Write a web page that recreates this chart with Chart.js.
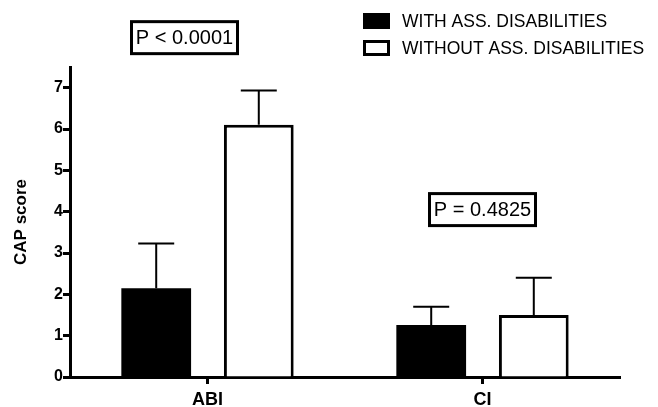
<!DOCTYPE html>
<html>
<head>
<meta charset="utf-8">
<script src="https://cdn.jsdelivr.net/npm/chart.js@4"></script>
<style>
  html, body { margin: 0; padding: 0; background: #fff; }
  #wrap { width: 658px; height: 407px; position: relative; }
</style>
</head>
<body>
<div id="wrap"><canvas id="capChart"></canvas></div>
<script>
const categories = ["ABI", "CI"];
const seriesNames = ["WITH ASS. DISABILITIES", "WITHOUT ASS. DISABILITIES"];
const withDisabilities = [2.15, 1.26];
const withDisabilitiesErr = [1.08, 0.44];
const withoutDisabilities = [6.1, 1.5];
const withoutDisabilitiesErr = [0.83, 0.9];
const pValues = ["P < 0.0001", "P = 0.4825"];
const yTicks = [0, 1, 2, 3, 4, 5, 6, 7];

const FONT = "'Liberation Sans', Arial, sans-serif";

// where the p-value boxes sit: x offset from category centre, y in data units
const pBoxPos = [
  { dx: -23, y: 8.21 },
  { dx: 0, y: 4.05 },
];

const errorBars = {
  id: "errorBars",
  afterDatasetsDraw(chart) {
    const { ctx, scales } = chart;
    const errs = [withDisabilitiesErr, withoutDisabilitiesErr];
    ctx.save();
    ctx.strokeStyle = "#000";
    ctx.lineWidth = 2;
    chart.data.datasets.forEach((ds, di) => {
      const meta = chart.getDatasetMeta(di);
      meta.data.forEach((bar, i) => {
        const top = scales.y.getPixelForValue(ds.data[i] + errs[di][i]);
        ctx.beginPath();
        ctx.moveTo(bar.x, bar.y);
        ctx.lineTo(bar.x, top);
        ctx.moveTo(bar.x - 18, top);
        ctx.lineTo(bar.x + 18, top);
        ctx.stroke();
      });
    });
    ctx.restore();
  },
};

const pBoxes = {
  id: "pBoxes",
  afterDraw(chart) {
    const { ctx, scales } = chart;
    ctx.save();
    ctx.font = "20px " + FONT;
    ctx.textBaseline = "middle";
    ctx.textAlign = "center";
    pValues.forEach((txt, i) => {
      const cx = scales.x.getPixelForValue(i) + pBoxPos[i].dx;
      const cy = scales.y.getPixelForValue(pBoxPos[i].y);
      const w = 106, h = 32;
      ctx.fillStyle = "#fff";
      ctx.fillRect(cx - w / 2, cy - h / 2, w, h);
      ctx.strokeStyle = "#000";
      ctx.lineWidth = 3;
      ctx.strokeRect(cx - w / 2, cy - h / 2, w, h);
      ctx.fillStyle = "#000";
      ctx.fillText(txt, cx, cy + 1);
    });
    ctx.restore();
  },
};

const legendBox = {
  id: "legendBox",
  afterDraw(chart) {
    const { ctx } = chart;
    ctx.save();
    ctx.font = "17.5px " + FONT;
    ctx.textBaseline = "middle";
    ctx.fillStyle = "#000";
    const rows = [21, 48];
    seriesNames.forEach((name, i) => {
      const y = rows[i];
      if (i === 0) {
        ctx.fillRect(363, y - 8, 27, 16);
      } else {
        ctx.strokeStyle = "#000";
        ctx.lineWidth = 3;
        ctx.strokeRect(364.5, y - 6.5, 24, 13);
      }
      ctx.fillText(name, 402, y + 1);
    });
    ctx.restore();
  },
};

new Chart(document.getElementById("capChart"), {
  type: "bar",
  data: {
    labels: categories,
    datasets: [
      {
        label: seriesNames[0],
        data: withDisabilities,
        backgroundColor: "#000",
        borderColor: "#000",
        borderWidth: 0,
      },
      {
        label: seriesNames[1],
        data: withoutDisabilities,
        backgroundColor: "#fff",
        borderColor: "#000",
        borderWidth: 3,
        borderSkipped: "bottom",
      },
    ],
  },
  options: {
    responsive: true,
    maintainAspectRatio: false,
    animation: false,
    datasets: {
      bar: { categoryPercentage: 0.746, barPercentage: 0.68 },
    },
    layout: { padding: { top: 67, right: 38, left: 0, bottom: 0 } },
    plugins: { legend: { display: false }, tooltip: { enabled: false } },
    scales: {
      x: {
        afterFit: (scale) => { scale.height = 30; },
        grid: {
          offset: false,
          drawOnChartArea: false,
          tickLength: 7,
          tickWidth: 3,
          tickColor: "#000",
        },
        border: { color: "#000", width: 3 },
        ticks: {
          color: "#000",
          padding: 5,
          font: { family: FONT, size: 18, weight: "bold" },
        },
      },
      y: {
        min: 0,
        max: 7.5,
        afterFit: (scale) => { scale.width = 70; },
        afterBuildTicks: (scale) => { scale.ticks = yTicks.map((v) => ({ value: v })); },
        grid: {
          drawOnChartArea: false,
          tickLength: 7,
          tickWidth: 3,
          tickColor: "#000",
        },
        border: { color: "#000", width: 3 },
        ticks: {
          color: "#000",
          padding: 0,
          font: { family: FONT, size: 16, weight: "bold" },
        },
        title: {
          display: true,
          text: "CAP score",
          color: "#000",
          padding: { top: 11, bottom: 0 },
          font: { family: FONT, size: 17, weight: "bold" },
        },
      },
    },
  },
  plugins: [errorBars, pBoxes, legendBox],
});
</script>
</body>
</html>
